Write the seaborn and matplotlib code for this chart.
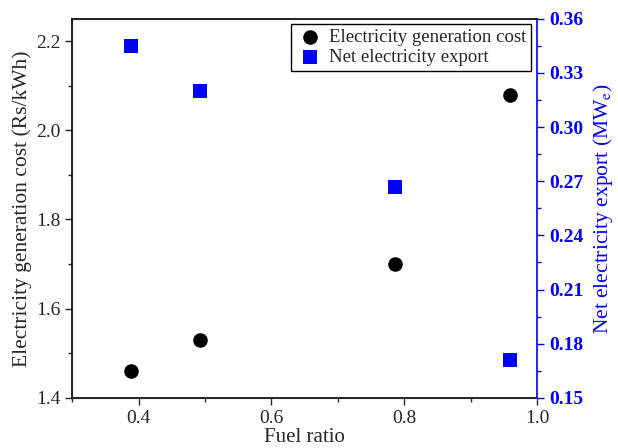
import matplotlib.pyplot as plt
import matplotlib.ticker as mticker
import pandas as pd
import seaborn as sns

fuel_ratio = [0.388, 0.492, 0.786, 0.960]
gen_cost = [1.46, 1.53, 1.70, 2.08]
net_export = [0.345, 0.320, 0.267, 0.171]

BLUE = "#0000ff"


def main():
    sns.set_style("ticks")
    plt.rcParams["font.family"] = ["Liberation Serif", "DejaVu Serif"]
    plt.rcParams["mathtext.fontset"] = "stix"

    df = pd.DataFrame({"fuel": fuel_ratio, "cost": gen_cost, "export": net_export})

    fig, ax = plt.subplots(figsize=(6.18, 4.48), dpi=100)
    ax2 = ax.twinx()

    sns.scatterplot(data=df, x="fuel", y="cost", ax=ax, color="black", marker="o",
                    s=110, linewidth=0, zorder=3, legend=False)
    sns.scatterplot(data=df, x="fuel", y="export", ax=ax2, color=BLUE, marker="s",
                    s=100, linewidth=0, zorder=3, legend=False)

    ax.set_xlim(0.3, 1.0)
    ax.set_ylim(1.4, 2.25)
    ax2.set_ylim(0.15, 0.36)

    ax.xaxis.set_major_locator(mticker.MultipleLocator(0.2))
    ax.xaxis.set_minor_locator(mticker.MultipleLocator(0.1))
    ax.yaxis.set_major_locator(mticker.MultipleLocator(0.2))
    ax.yaxis.set_minor_locator(mticker.MultipleLocator(0.1))
    ax.xaxis.set_major_formatter(mticker.FormatStrFormatter("%.1f"))
    ax.yaxis.set_major_formatter(mticker.FormatStrFormatter("%.1f"))
    ax2.yaxis.set_major_locator(mticker.MultipleLocator(0.03))
    ax2.yaxis.set_minor_locator(mticker.MultipleLocator(0.015))
    ax2.yaxis.set_major_formatter(mticker.FormatStrFormatter("%.2f"))

    ax.tick_params(axis="both", which="major", direction="out", length=5, width=1,
                   labelsize=14, top=False)
    ax.tick_params(axis="both", which="minor", direction="out", length=3, width=1, top=False)
    ax2.tick_params(axis="y", which="major", direction="out", length=5, width=1,
                    colors=BLUE, labelsize=14)
    ax2.tick_params(axis="y", which="minor", direction="out", length=3, width=1, colors=BLUE)
    for lbl in ax2.get_yticklabels():
        lbl.set_fontweight("bold")

    for side in ["left", "bottom", "top"]:
        ax.spines[side].set_linewidth(1.2)
        ax.spines[side].set_color("black")
    ax2.spines["right"].set_color(BLUE)
    ax2.spines["right"].set_linewidth(1.2)
    ax.spines["right"].set_visible(False)

    ax.set_xlabel("Fuel ratio", fontsize=15, labelpad=1)
    ax.set_ylabel("Electricity generation cost (Rs/kWh)", fontsize=15.5, labelpad=3)
    ax2.set_ylabel("Net electricity export (MW$_\\mathrm{e}$)", fontsize=15.5, color=BLUE,
                   labelpad=6)

    handles = ax.collections[:1] + ax2.collections[:1]
    labels = ["Electricity generation cost", "Net electricity export"]
    leg = ax2.legend(handles, labels, loc="upper right", fontsize=13.5, frameon=True,
                     fancybox=False, framealpha=1, edgecolor="black",
                     borderaxespad=0.3, handletextpad=0.3, borderpad=0.25,
                     labelspacing=0.15, handlelength=1.5)
    leg.get_frame().set_linewidth(1.0)

    fig.subplots_adjust(left=0.117, right=0.869, top=0.958, bottom=0.112)
    fig.savefig("out.png", dpi=100)


if __name__ == "__main__":
    main()
